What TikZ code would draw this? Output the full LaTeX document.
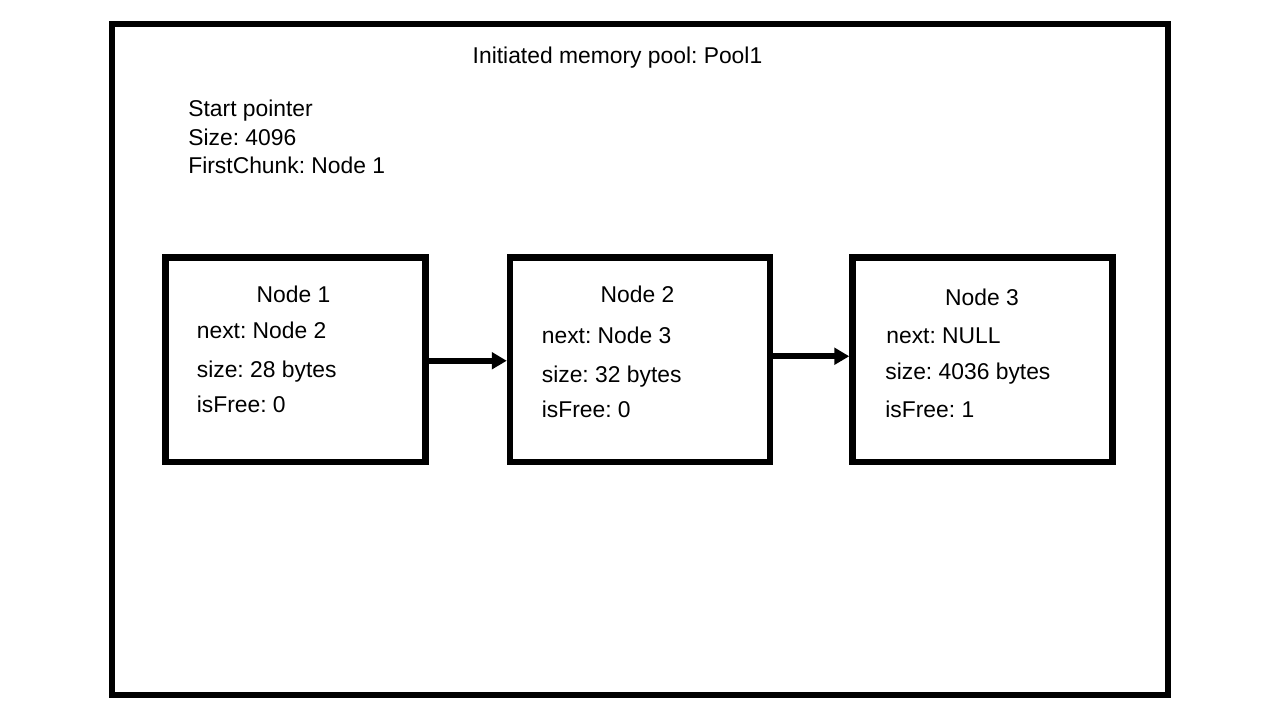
\documentclass[tikz,border=0pt]{standalone}
\usepackage{fontspec}
\setmainfont{Liberation Sans}
\frenchspacing
\usepackage{tikz}
\usetikzlibrary{arrows.meta}

\begin{document}
\begin{tikzpicture}[
        chunk/.style={draw, line width=3.7pt, minimum width=5.2cm, minimum height=4.09cm, inner sep=0pt},
        txt/.style={font=\fontsize{13}{16}\selectfont, inner sep=0pt},
        link/.style={line width=3.3pt, -{Triangle[length=0.3cm, width=0.33cm]}}]
        \useasboundingbox (0,0) rectangle (25.6,-14.4);
        \node[draw, line width=3.5pt, minimum width=21.12cm, minimum height=13.42cm] (pool) at (12.8,-7.19){};
        \node[txt, anchor=base] (title) at (12.35,-1.26){Initiated memory pool: Pool1};
        \node[txt, anchor=base west] (start) at (3.76,-2.32){Start pointer};
        \node[txt, anchor=base west] (psize) at (3.76,-2.9){Size: 4096};
        \node[txt, anchor=base west] (first) at (3.76,-3.46){FirstChunk: Node 1};
        \node[chunk] (n1) at (5.905,-7.195){};
        \node[chunk] (n2) at (12.8,-7.195){};
        \node[chunk] (n3) at (19.65,-7.195){};
        \node[txt, anchor=base] (n1title) at (5.87,-6.04){Node 1};
        \node[txt, anchor=base west] (n1next) at (3.93,-6.76){next: Node 2};
        \node[txt, anchor=base west] (n1size) at (3.93,-7.54){size: 28 bytes};
        \node[txt, anchor=base west] (n1free) at (3.93,-8.24){isFree: 0};
        \node[txt, anchor=base] (n2title) at (12.75,-6.04){Node 2};
        \node[txt, anchor=base west] (n2next) at (10.83,-6.86){next: Node 3};
        \node[txt, anchor=base west] (n2size) at (10.83,-7.64){size: 32 bytes};
        \node[txt, anchor=base west] (n2free) at (10.83,-8.34){isFree: 0};
        \node[txt, anchor=base] (n3title) at (19.64,-6.1){Node 3};
        \node[txt, anchor=base west] (n3next) at (17.72,-6.86){next: NULL};
        \node[txt, anchor=base west] (n3size) at (17.7,-7.58){size: 4036 bytes};
        \node[txt, anchor=base west] (n3free) at (17.7,-8.34){isFree: 1};
        \draw[link] ([yshift=-0.02cm]n1.east) -- ([yshift=-0.02cm]n2.west);
        \draw[link] ([yshift=0.07cm]n2.east) -- ([yshift=0.07cm]n3.west);
    \end{tikzpicture}
\end{document}
